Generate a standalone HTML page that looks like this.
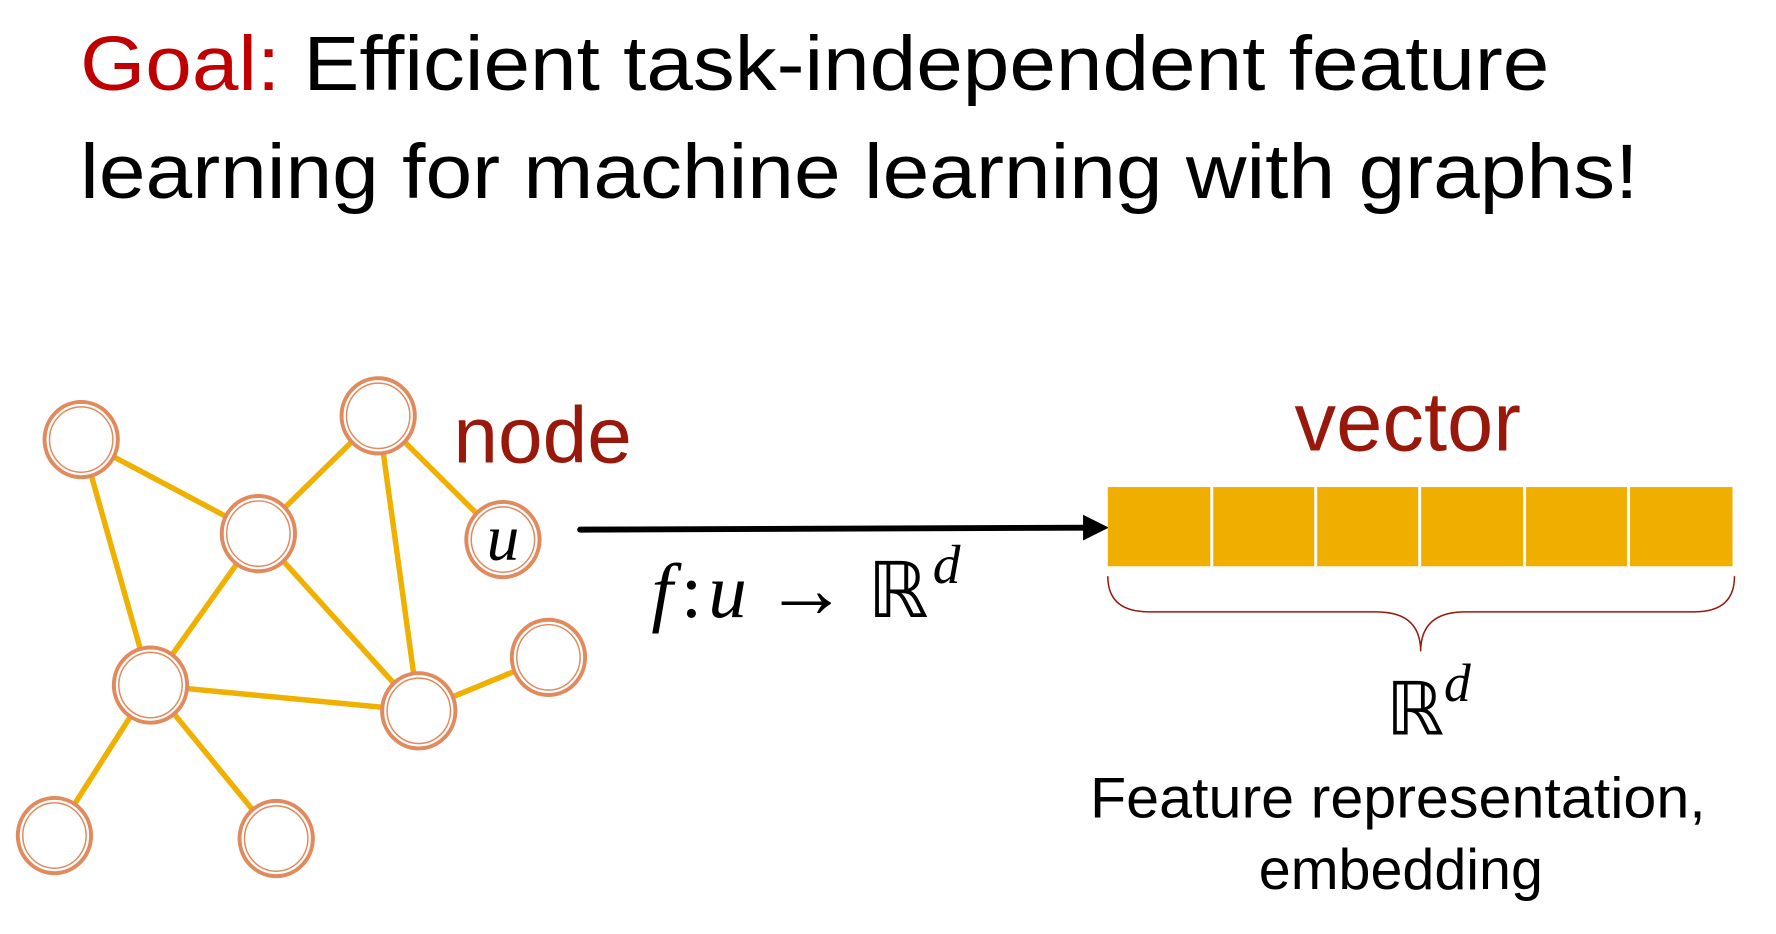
<!DOCTYPE html>
<html><head><meta charset="utf-8"><style>
html,body{margin:0;padding:0;background:#fff;}
svg{display:block;}
</style></head><body>
<svg width="1776" height="934" viewBox="0 0 1776 934" xmlns="http://www.w3.org/2000/svg">
<g transform="scale(0.99)">
<g font-family="Liberation Sans, sans-serif" font-size="78">
<text x="81" y="91" textLength="1484" lengthAdjust="spacingAndGlyphs"><tspan fill="#C00000">Goal:</tspan> Efficient task-independent feature</text>
<text x="81" y="200" textLength="1574" lengthAdjust="spacingAndGlyphs">learning for machine learning with graphs!</text>
</g>
<g stroke="#EFB000" stroke-width="5.5" stroke-linecap="round">
<line x1="82" y1="444" x2="261" y2="539"/>
<line x1="82" y1="444" x2="152" y2="692"/>
<line x1="261" y1="539" x2="382" y2="420"/>
<line x1="261" y1="539" x2="152" y2="692"/>
<line x1="261" y1="539" x2="423" y2="718"/>
<line x1="382" y1="420" x2="508" y2="545"/>
<line x1="382" y1="420" x2="423" y2="718"/>
<line x1="152" y1="692" x2="423" y2="718"/>
<line x1="152" y1="692" x2="55" y2="844"/>
<line x1="152" y1="692" x2="279" y2="847"/>
<line x1="423" y1="718" x2="554" y2="664"/>
</g>
<g fill="#fff" stroke="#E08A5E">
<g stroke-width="4">
<ellipse cx="82" cy="444" rx="37" ry="38"/>
<ellipse cx="382" cy="420" rx="37" ry="38"/>
<ellipse cx="261" cy="539" rx="37" ry="38"/>
<ellipse cx="508" cy="545" rx="37" ry="38"/>
<ellipse cx="152" cy="692" rx="37" ry="38"/>
<ellipse cx="423" cy="718" rx="37" ry="38"/>
<ellipse cx="554" cy="664" rx="37" ry="38"/>
<ellipse cx="55" cy="844" rx="37" ry="38"/>
<ellipse cx="279" cy="847" rx="37" ry="38"/>
</g>
<g stroke-width="1.5" fill="none">
<ellipse cx="82" cy="444" rx="32" ry="33"/>
<ellipse cx="382" cy="420" rx="32" ry="33"/>
<ellipse cx="261" cy="539" rx="32" ry="33"/>
<ellipse cx="508" cy="545" rx="32" ry="33"/>
<ellipse cx="152" cy="692" rx="32" ry="33"/>
<ellipse cx="423" cy="718" rx="32" ry="33"/>
<ellipse cx="554" cy="664" rx="32" ry="33"/>
<ellipse cx="55" cy="844" rx="32" ry="33"/>
<ellipse cx="279" cy="847" rx="32" ry="33"/>
</g>
</g>
<text x="508" y="565" font-family="Liberation Serif, serif" font-style="italic" font-size="66" text-anchor="middle">u</text>
<text x="458" y="467" font-family="Liberation Sans, sans-serif" font-size="81" fill="#99180C">node</text>
<line x1="586" y1="535" x2="1098" y2="533" stroke="#000" stroke-width="6" stroke-linecap="round"/>
<polygon points="1120,533 1094,520 1094,546" fill="#000"/>
<text x="658" y="623" font-family="Liberation Serif, serif" font-size="78"><tspan font-style="italic">f</tspan><tspan dx="8">:</tspan><tspan font-style="italic" dx="6">u</tspan><tspan dx="18" font-size="84">→</tspan><tspan dx="20">ℝ</tspan><tspan font-style="italic" font-size="56" dy="-34" dx="4">d</tspan></text>
<text x="1422" y="455" font-family="Liberation Sans, sans-serif" font-size="84" fill="#99180C" text-anchor="middle">vector</text>
<rect x="1119" y="492" width="631" height="80" fill="#F0AE00"/>
<g stroke="#fff" stroke-width="3">
<line x1="1224" y1="492" x2="1224" y2="572"/>
<line x1="1329" y1="492" x2="1329" y2="572"/>
<line x1="1434" y1="492" x2="1434" y2="572"/>
<line x1="1540" y1="492" x2="1540" y2="572"/>
<line x1="1645" y1="492" x2="1645" y2="572"/>
</g>
<path d="M1119,582 Q1119,618 1160,618 L1390,618 Q1435,618 1435,658 Q1435,618 1480,618 L1712,618 Q1752,618 1752,582" fill="none" stroke="#99180C" stroke-width="1.5"/>
<text x="1400" y="742" font-family="Liberation Serif, serif" font-size="74">ℝ<tspan font-style="italic" font-size="54" dy="-34">d</tspan></text>
<text x="1412" y="826" font-family="Liberation Sans, sans-serif" font-size="58" text-anchor="middle" textLength="622" lengthAdjust="spacingAndGlyphs">Feature representation,</text>
<text x="1415" y="898" font-family="Liberation Sans, sans-serif" font-size="58" text-anchor="middle">embedding</text>
</g>
</svg>
</body></html>
